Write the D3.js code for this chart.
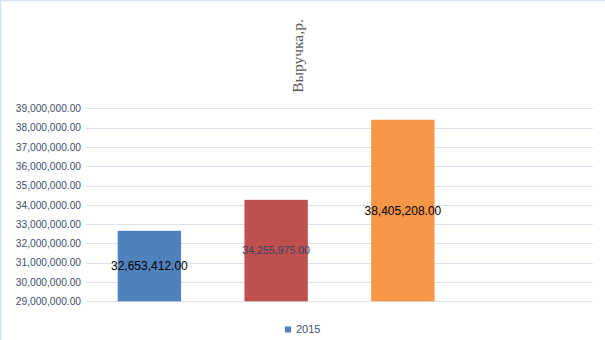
<!DOCTYPE html>
<html>
<head>
<meta charset="utf-8">
<script src="https://cdn.jsdelivr.net/npm/d3@7"></script>
<style>
html,body{margin:0;padding:0;background:#fff;}
svg{display:block;}
</style>
</head>
<body>
<svg id="chart" width="605" height="340"></svg>
<script>
const categories = ["1", "2", "3", "4"];
const values = [32653412, 34255975, 38405208, null];
const barColors = ["#4f81bd", "#c0504d", "#f79646", "#9bbb59"];
const seriesName = "2015";
const title = "Выручка,р.";
const yTicks = [29000000, 30000000, 31000000, 32000000, 33000000, 34000000, 35000000, 36000000, 37000000, 38000000, 39000000];

const svg = d3.select("#chart");
const W = 605, H = 340;

// outer border (left and top light lines)
svg.append("line").attr("x1", 0.5).attr("x2", 0.5).attr("y1", 0).attr("y2", H).attr("stroke", "#d6e3f3").attr("stroke-width", 1.5);
svg.append("line").attr("x1", 0).attr("x2", W).attr("y1", 0.5).attr("y2", 0.5).attr("stroke", "#d6e3f3").attr("stroke-width", 1.5);

const plot = {left: 86, right: 593, top: 108.3, bottom: 301.3};

const y = d3.scaleLinear().domain([29000000, 39000000]).range([plot.bottom, plot.top]);
const x = d3.scaleBand().domain(categories).range([plot.left, plot.right]).paddingInner(0.5).paddingOuter(0.25);

const fmt = d3.format(",.2f");

// gridlines
svg.append("g").selectAll("line").data(yTicks).join("line")
  .attr("x1", plot.left).attr("x2", plot.right)
  .attr("y1", d => Math.round(y(d)) + 0.5).attr("y2", d => Math.round(y(d)) + 0.5)
  .attr("stroke", "#d9e2ef").attr("stroke-width", 1);

// y axis labels
const yAxis = d3.axisLeft(y).tickValues(yTicks).tickFormat(fmt).tickSize(0).tickPadding(5);
const ga = svg.append("g").attr("transform", `translate(${plot.left},0)`).call(yAxis);
ga.select(".domain").remove();
ga.selectAll("text").attr("font-family", "Liberation Sans, Arial, sans-serif").attr("font-size", 10.2).attr("fill", "#3e4f6b");

// bars
const data = categories.map((c, i) => ({c, v: values[i], color: barColors[i]})).filter(d => d.v != null);
svg.append("g").selectAll("rect").data(data).join("rect")
  .attr("x", d => x(d.c)).attr("width", x.bandwidth())
  .attr("y", d => y(d.v)).attr("height", d => y(29000000) - y(d.v))
  .attr("fill", d => d.color);

// data labels
const labelStyle = [
  {size: 12, fill: "#000000"},
  {size: 10.6, fill: "#34466a"},
  {size: 12, fill: "#000000"}
];
svg.append("g").selectAll("text").data(data).join("text")
  .attr("x", d => x(d.c) + x.bandwidth() / 2)
  .attr("y", d => (y(d.v) + y(29000000)) / 2)
  .attr("dy", "0.35em")
  .attr("text-anchor", "middle")
  .attr("font-family", "Liberation Sans, Arial, sans-serif")
  .attr("font-size", (d, i) => labelStyle[i].size)
  .attr("fill", (d, i) => labelStyle[i].fill)
  .text(d => fmt(d.v));

// title (rotated)
svg.append("text")
  .attr("transform", "translate(303,56) rotate(-90)")
  .attr("text-anchor", "middle")
  .attr("font-family", "Liberation Serif, Times New Roman, serif")
  .attr("font-size", 15.5)
  .attr("fill", "#595959")
  .text(title);

// legend
const lg = svg.append("g");
lg.append("rect").attr("x", 285).attr("y", 326.5).attr("width", 6).attr("height", 6).attr("fill", barColors[0]);
lg.append("text").attr("x", 296).attr("y", 333).attr("font-family", "Liberation Sans, Arial, sans-serif")
  .attr("font-size", 11).attr("fill", "#44546a").text(seriesName);
</script>
</body>
</html>
